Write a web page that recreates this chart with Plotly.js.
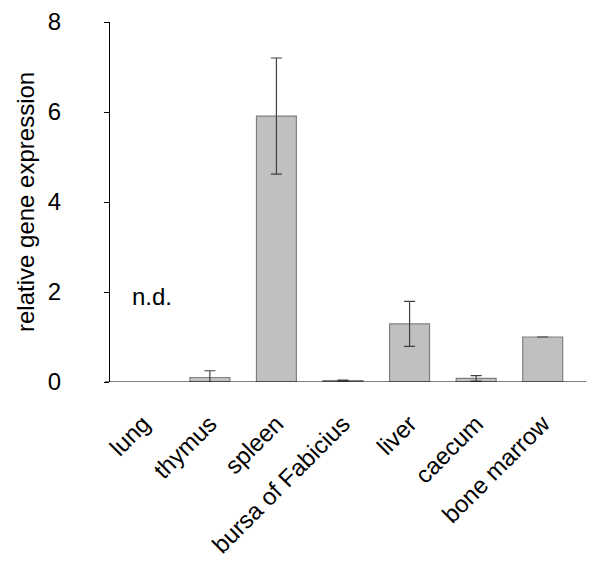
<!DOCTYPE html>
<html>
<head>
<meta charset="utf-8">
<script src="https://cdn.plot.ly/plotly-3.0.1.min.js"></script>
<style>body{margin:0;background:#fff}</style>
</head>
<body>
<div id="plot" style="width:600px;height:567px"></div>
<script>
// tissues and relative expression (lung not detected)
var tissues = ['lung', 'thymus', 'spleen', 'bursa of Fabicius', 'liver', 'caecum', 'bone marrow'];
var expression = [null, 0.10, 5.91, 0.03, 1.29, 0.08, 1.0];
var errors = [null, 0.15, 1.29, 0.01, 0.5, 0.06, 0];
var yTicks = [0, 2, 4, 6, 8];

var trace = {
    x: tissues,
    y: expression,
    type: 'bar',
    marker: {color: '#c0c0c0', line: {color: '#7f7f7f', width: 1.2}},
    error_y: {type: 'data', array: errors, visible: true, color: '#404040', thickness: 1.2, width: 5.5},
    hoverinfo: 'none'
};

var fam = 'Liberation Sans, Arial, sans-serif';

var layout = {
    width: 600,
    height: 567,
    margin: {l: 110, r: 24, t: 22, b: 185},
    paper_bgcolor: '#fff',
    plot_bgcolor: '#fff',
    showlegend: false,
    bargap: 0.4,
    font: {family: fam, color: '#000'},
    xaxis: {
        tickangle: -45,
        tickfont: {family: fam, size: 24, color: '#000'},
        ticks: '',
        ticklabelstandoff: 22,
        showgrid: false,
        zeroline: false,
        showline: false
    },
    yaxis: {
        range: [0, 8],
        tickvals: yTicks,
        ticktext: yTicks.map(String),
        ticks: 'outside',
        ticklen: 5,
        tickcolor: '#000',
        tickfont: {family: fam, size: 24, color: '#000'},
        ticklabelstandoff: 38,
        showline: true,
        linecolor: '#000',
        linewidth: 1,
        showgrid: false,
        zeroline: false
    },
    shapes: [{
        type: 'line', xref: 'paper', yref: 'y',
        x0: -0.011, x1: 1.022, y0: 0, y1: 0,
        line: {color: '#000', width: 1.2}
    }],
    annotations: [{
        x: 'lung', y: 1.9, xref: 'x', yref: 'y',
        text: 'n.d.', showarrow: false, xshift: 9,
        font: {family: fam, size: 24, color: '#000'}
    }, {
        x: 0, y: 0.5, xref: 'paper', yref: 'paper',
        xanchor: 'center', yanchor: 'middle', xshift: -85,
        textangle: -90, showarrow: false,
        text: 'relative gene expression',
        font: {family: fam, size: 24, color: '#000'}
    }]
};

Plotly.newPlot('plot', [trace], layout, {displayModeBar: false, staticPlot: true});
</script>
</body>
</html>
